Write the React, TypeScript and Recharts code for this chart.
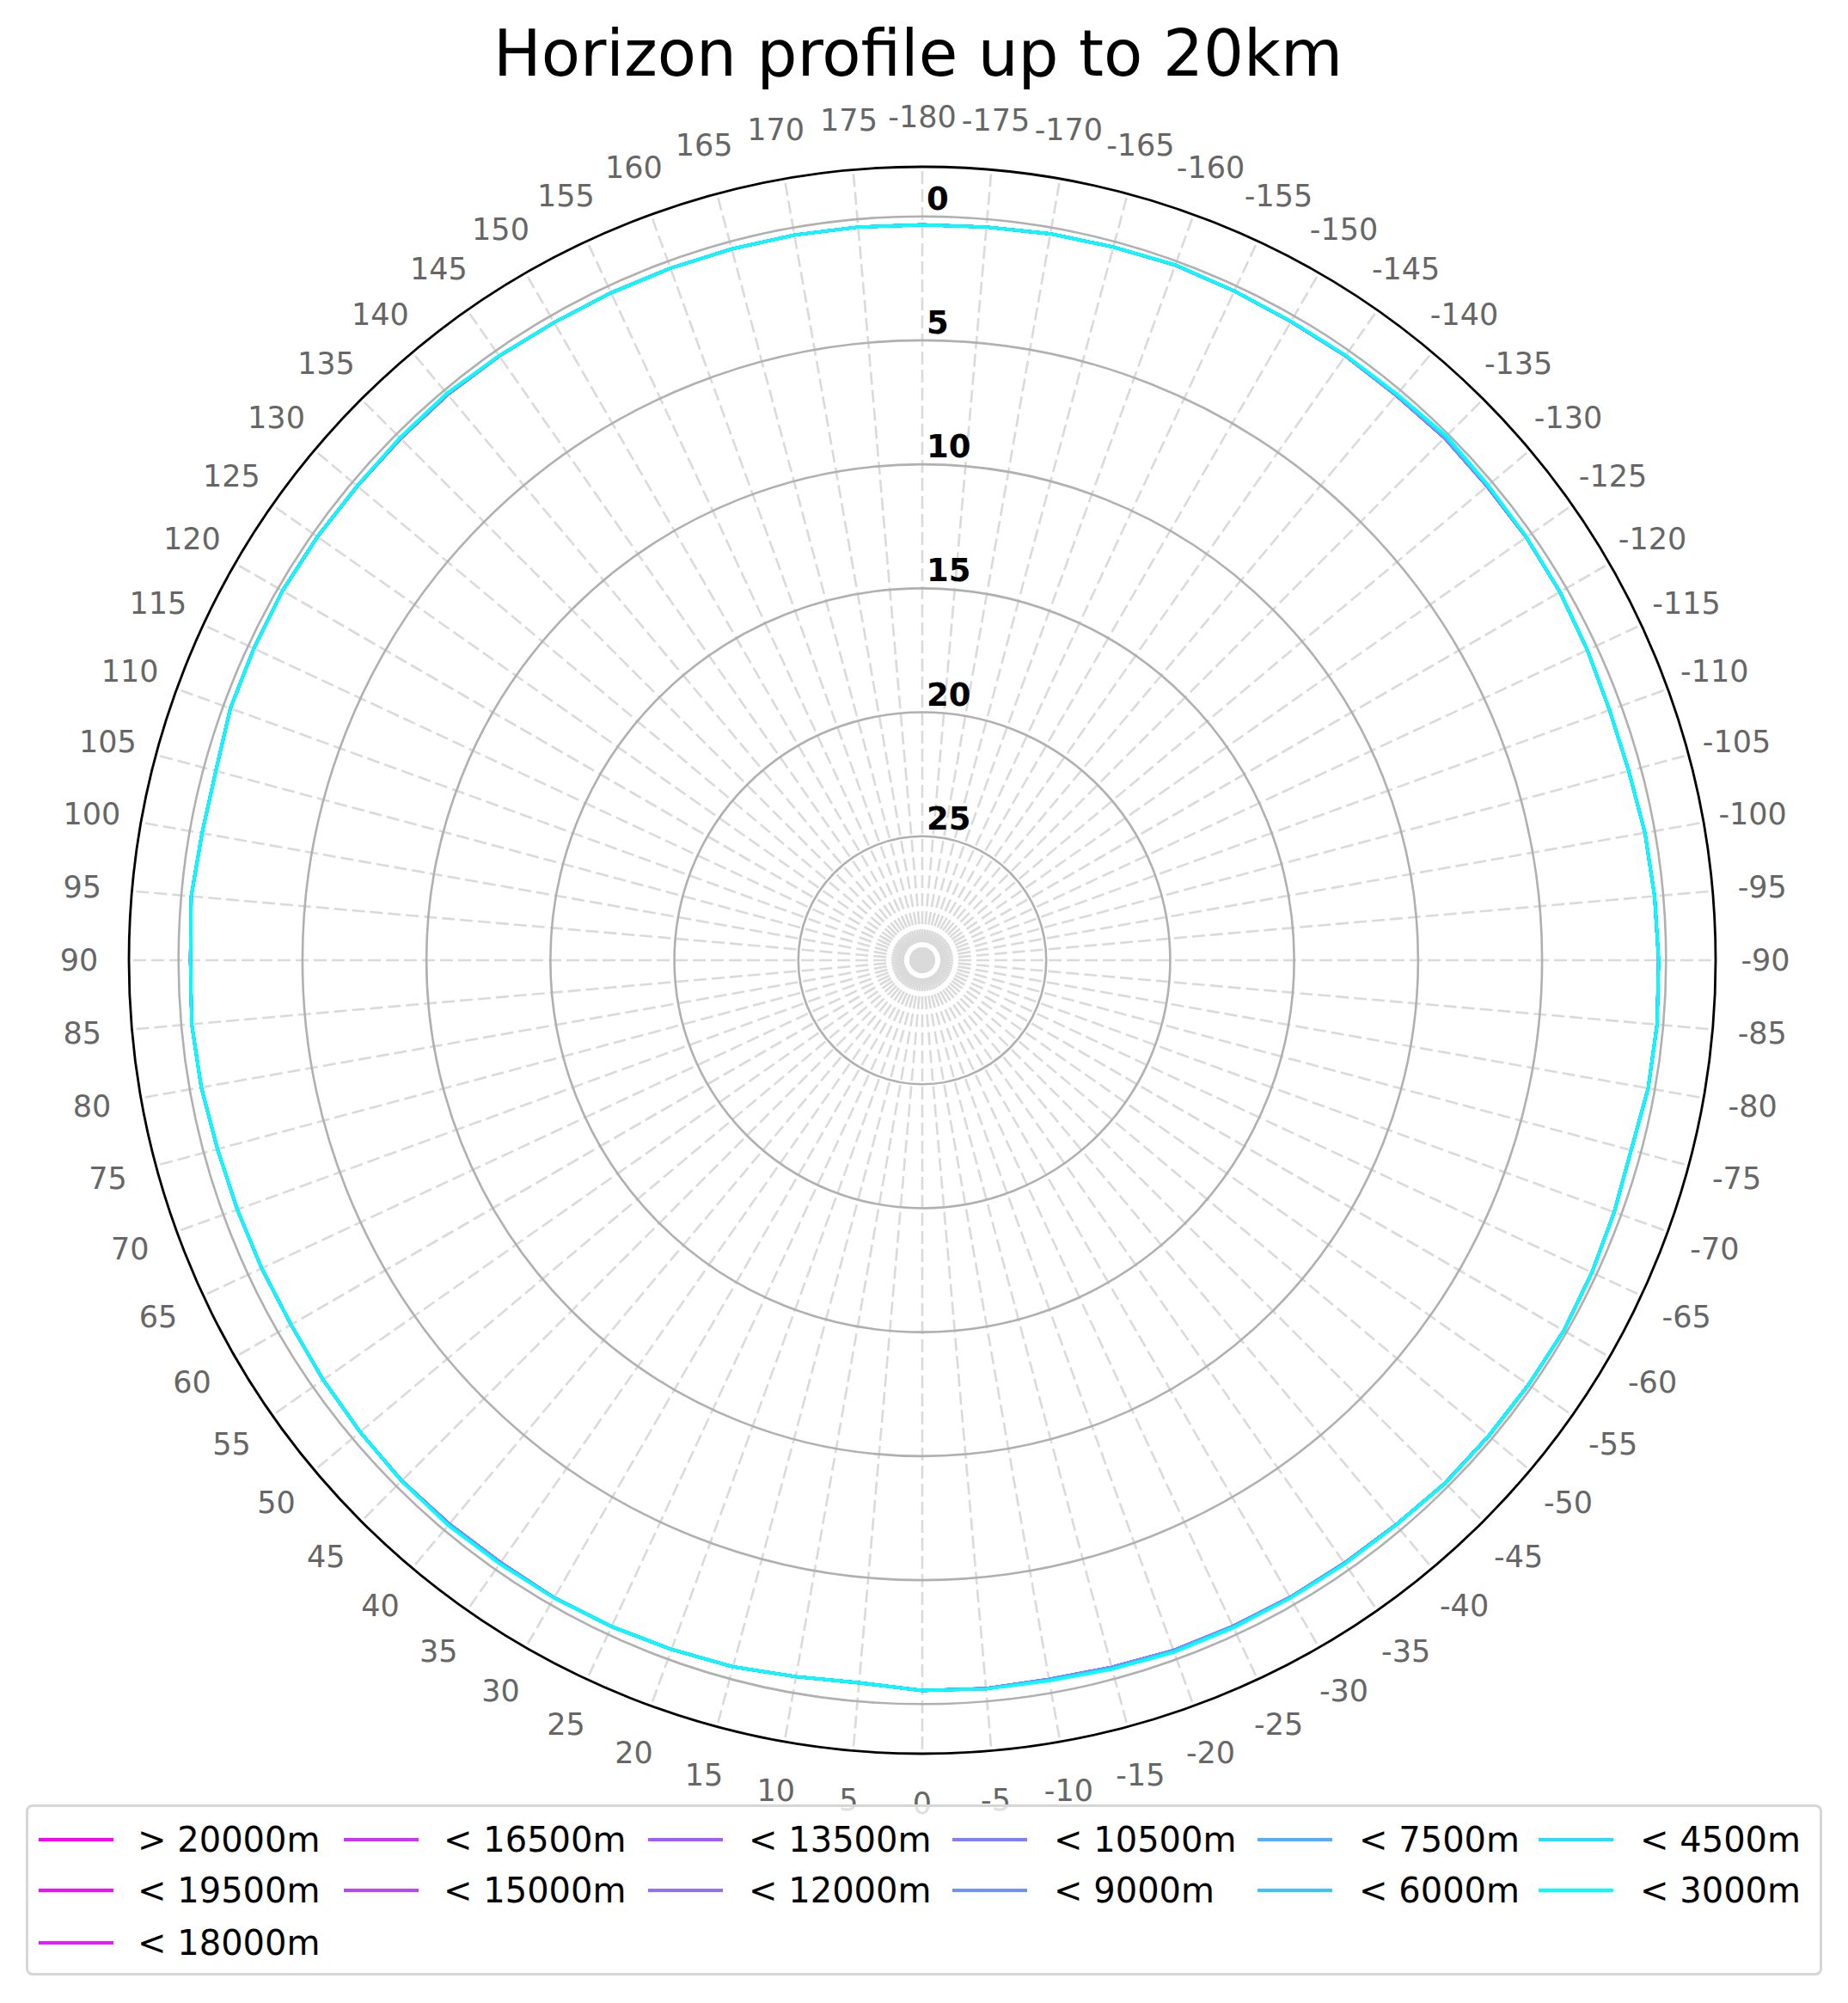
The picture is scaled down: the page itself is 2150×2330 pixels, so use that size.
import React from "react";
import {
  RadarChart,
  Radar,
  PolarGrid,
  PolarAngleAxis,
  PolarRadiusAxis,
} from "recharts";

// azimuth in degrees, -180 at the top, going clockwise
const azimuths = [
  -180, -175, -170, -165, -160, -155, -150, -145, -140, -135, -130, -125,
  -120, -115, -110, -105, -100, -95, -90, -85, -80, -75, -70, -65,
  -60, -55, -50, -45, -40, -35, -30, -25, -20, -15, -10, -5,
  0, 5, 10, 15, 20, 25, 30, 35, 40, 45, 50, 55,
  60, 65, 70, 75, 80, 85, 90, 95, 100, 105, 110, 115,
  120, 125, 130, 135, 140, 145, 150, 155, 160, 165, 170, 175,
];

// horizon elevation (deg) read for the near bins (< 4500m, < 3000m)
const nearProfile = [
  0.34, 0.32, 0.25, 0.22, 0.16, 0.22, 0.25, 0.22, 0.2, 0.1, 0.2, 0.25,
  0.3, 0.4, 0.5, 0.5, 0.4, 0.35, 0.3, 0.25, 0.27, 0.4, 0.3, 0.2,
  0.12, 0.15, 0.17, 0.17, 0.27, 0.28, 0.3, 0.3, 0.3, 0.4, 0.5, 0.5,
  0.55, 0.75, 0.66, 0.5, 0.42, 0.35, 0.3, 0.28, 0.25, 0.3, 0.4, 0.5,
  0.6, 0.6, 0.6, 0.57, 0.47, 0.42, 0.48, 0.4, 0.5, 0.5, 0.3, 0.25,
  0.2, 0.22, 0.24, 0.2, 0.16, 0.24, 0.3, 0.3, 0.3, 0.3, 0.3, 0.32,
];

// mid bins (< 9000m, < 7500m, < 6000m)
const midProfile = [
  0.34, 0.32, 0.25, 0.22, 0.16, 0.22, 0.25, 0.23, 0.23, 0.16, 0.23, 0.25,
  0.3, 0.4, 0.5, 0.5, 0.4, 0.35, 0.3, 0.25, 0.27, 0.4, 0.3, 0.2,
  0.12, 0.15, 0.17, 0.17, 0.27, 0.3, 0.31, 0.33, 0.34, 0.44, 0.52, 0.5,
  0.55, 0.75, 0.66, 0.5, 0.42, 0.35, 0.3, 0.31, 0.28, 0.3, 0.4, 0.5,
  0.6, 0.6, 0.6, 0.57, 0.47, 0.42, 0.48, 0.4, 0.5, 0.5, 0.3, 0.25,
  0.2, 0.22, 0.24, 0.22, 0.19, 0.24, 0.3, 0.3, 0.3, 0.3, 0.3, 0.32,
];

// far bins (> 20000m down to < 10500m)
const farProfile = [
  0.34, 0.32, 0.25, 0.22, 0.17, 0.22, 0.26, 0.24, 0.26, 0.21, 0.26, 0.26,
  0.3, 0.4, 0.5, 0.5, 0.4, 0.35, 0.3, 0.25, 0.27, 0.4, 0.3, 0.2,
  0.12, 0.15, 0.17, 0.18, 0.28, 0.32, 0.33, 0.36, 0.38, 0.48, 0.55, 0.52,
  0.55, 0.75, 0.66, 0.5, 0.42, 0.35, 0.31, 0.35, 0.32, 0.31, 0.4, 0.5,
  0.6, 0.6, 0.6, 0.57, 0.47, 0.42, 0.48, 0.4, 0.5, 0.5, 0.3, 0.25,
  0.2, 0.22, 0.25, 0.24, 0.22, 0.25, 0.3, 0.3, 0.3, 0.3, 0.3, 0.32,
];

const seriesNames = [
  "> 20000m", "< 19500m", "< 18000m", "< 16500m", "< 15000m", "< 13500m",
  "< 12000m", "< 10500m", "< 9000m", "< 7500m", "< 6000m", "< 4500m", "< 3000m",
];
const seriesColors = [
  "#ff00ff", "#f808ff", "#e51aff", "#cc33ff", "#bb44ff", "#a35cff",
  "#9070ff", "#8080ff", "#6f90ff", "#50b0ff", "#3cc3ff", "#1ee1ff", "#00ffff",
];
const seriesProfiles = [
  farProfile, farProfile, farProfile, farProfile, farProfile, farProfile,
  farProfile, farProfile, midProfile, midProfile, midProfile, nearProfile, nearProfile,
];

const radiusTicks = [0, 5, 10, 15, 20, 25];

const data = azimuths.map((az, i) => {
  const row: any = { az };
  seriesProfiles.forEach((p, s) => {
    row[`s${s}`] = p[i];
  });
  return row;
});

const FONT = "DejaVu Sans";

const AngleTick = (props: any) => {
  const { x, y, payload } = props;
  return (
    <text
      x={x}
      y={y}
      textAnchor="middle"
      dominantBaseline="central"
      fill="#666666"
      fontSize={35}
      fontFamily={FONT}
    >
      {payload.value}
    </text>
  );
};

const RadiusTick = (props: any) => {
  const { x, y, payload } = props;
  return (
    <text
      x={x + 5}
      y={y - 8}
      textAnchor="start"
      fill="#000"
      fontSize={37}
      fontWeight="bold"
      fontFamily={FONT}
    >
      {payload.value}
    </text>
  );
};

// legend layout (matplotlib ncol=6, column-major)
const legendCols = [
  { line: 45, text: 160 },
  { line: 400, text: 516 },
  { line: 754, text: 871 },
  { line: 1108, text: 1226 },
  { line: 1463, text: 1581 },
  { line: 1790, text: 1908 },
];
const legendRows = [2140, 2199, 2260];
const colSizes = [3, 2, 2, 2, 2, 2];

function legendPos(idx: number) {
  let start = 0;
  for (let c = 0; c < colSizes.length; c++) {
    if (idx < start + colSizes[c]) return { col: c, row: idx - start };
    start += colSizes[c];
  }
  return { col: 0, row: 0 };
}

export default function App() {
  return (
    <div
      style={{
        position: "absolute",
        left: 0,
        top: 0,
        width: 2150,
        height: 2330,
        background: "#fff",
        fontFamily: FONT,
      }}
    >
      <RadarChart
        width={2150}
        height={2330}
        data={data}
        cx={1073}
        cy={1117}
        outerRadius={923}
        innerRadius={0}
        startAngle={90}
        endAngle={-270}
        margin={{ top: 0, right: 0, bottom: 0, left: 0 }}
      >
        <PolarGrid
          gridType="circle"
          polarRadius={[0]}
          stroke="#dadada"
          strokeWidth={2.6}
          strokeDasharray="15 6"
        />
        <PolarGrid
          gridType="circle"
          radialLines={false}
          stroke="#b0b0b0"
          strokeWidth={2.6}
        />
        <PolarAngleAxis
          dataKey="az"
          type="number"
          domain={[-180, 180]}
          ticks={azimuths}
          tickCount={72}
          tickSize={58}
          tickLine={false}
          axisLineType="circle"
          axisLine={{ stroke: "#000", strokeWidth: 2.8 }}
          tick={AngleTick}
        />
        <PolarRadiusAxis
          type="number"
          angle={90}
          domain={[-2, 30]}
          reversed
          allowDataOverflow
          ticks={radiusTicks}
          axisLine={false}
          tick={RadiusTick}
        />
        {seriesNames.map((name, s) => (
          <Radar
            key={name}
            name={name}
            dataKey={`s${s}`}
            stroke={seriesColors[s]}
            strokeWidth={3.4}
            fill="none"
            fillOpacity={0}
            dot={false}
            isAnimationActive={false}
          />
        ))}
      </RadarChart>

      <div
        style={{
          position: "absolute",
          left: 0,
          top: 25,
          width: 2136,
          textAlign: "center",
          fontSize: 74,
          lineHeight: "74px",
          color: "#000",
        }}
      >
        Horizon profile up to 20km
      </div>

      <div
        style={{
          position: "absolute",
          left: 30,
          top: 2099,
          width: 2090,
          height: 199,
          boxSizing: "border-box",
          border: "3px solid #d6d6d6",
          borderRadius: 8,
          background: "rgba(255,255,255,0.8)",
        }}
      />
      {seriesNames.map((name, s) => {
        const { col, row } = legendPos(s);
        const y = legendRows[row];
        return (
          <React.Fragment key={name}>
            <div
              style={{
                position: "absolute",
                left: legendCols[col].line,
                top: y - 2,
                width: 87,
                height: 4,
                background: seriesColors[s],
              }}
            />
            <div
              style={{
                position: "absolute",
                left: legendCols[col].text,
                top: y - 25,
                fontSize: 40,
                lineHeight: "50px",
                color: "#000",
                whiteSpace: "nowrap",
              }}
            >
              {name}
            </div>
          </React.Fragment>
        );
      })}
    </div>
  );
}
